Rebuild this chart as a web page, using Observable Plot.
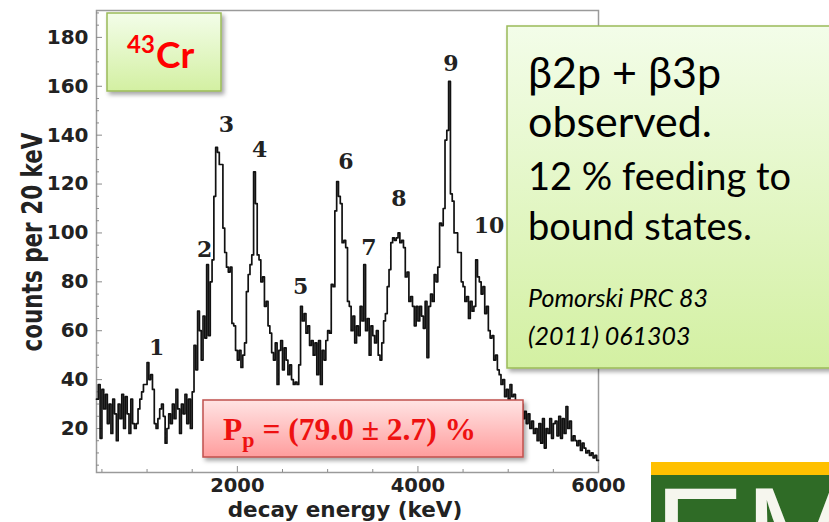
<!DOCTYPE html>
<html><head><meta charset="utf-8">
<script src="https://cdn.jsdelivr.net/npm/d3@7"></script>
<script src="https://cdn.jsdelivr.net/npm/@observablehq/plot@0.6"></script>
<style>
body{margin:0;background:#fff;}
#wrap{position:relative;width:829px;height:522px;overflow:hidden;background:#fff;}
#wrap svg{position:absolute;left:0;top:0;}
</style></head><body><div id="wrap"></div>
<script>
// ---- data (counts per 20 keV bin, bins start at 440 keV) ----
const binStartKeV = 440;
const binWidthKeV = 20;
const counts = [
  32,38,16,36,28,34,22,30,18,32,26,15,30,24,34,20,33,26,18,32,22,20,22,28,32,35,38,38,
  47,40,42,36,22,20,24,28,30,25,14,20,26,22,30,24,36,28,18,30,26,34,22,32,20,
  35,54,44,68,60,48,66,57,87,58,80,89,115,135,133,128,128,102,92,86,84,86,63,62,52,
  48,52,45,50,55,76,83,87,91,125,112,91,89,80,82,70,72,62,59,51,48,55,38,52,56,
  44,53,48,42,46,40,38,39,38,46,70,64,67,59,62,54,56,50,55,42,56,38,52,48,56,
  60,59,79,78,109,121,115,112,96,97,94,72,70,60,66,55,62,58,70,64,87,60,65,50,62,
  58,55,60,50,48,55,64,67,78,85,96,98,97,98,100,96,97,94,82,84,72,74,70,62,70,
  64,70,66,61,72,49,70,75,72,83,80,86,104,103,110,138,142,162,116,113,100,100,92,92,80,
  78,72,74,65,72,68,70,89,82,80,75,78,67,70,60,57,58,48,50,44,42,38,40,33,36,
  32,38,33,34,30,31,28,30,24,27,22,26,20,23,18,20,15,22,14,24,12,20,18,24,16,
  22,23,17,25,16,24,18,29,20,23,15,17,15,13,15,11,14,12,10,11,9,10,8,9,7
];
const peakLabels = ["1","2","3","4","5","6","7","8","9","10"];
const peakLabelEnergy = [1105,1638,1880,2248,2702,3201,3456,3789,4366,4787];
const peakLabelCount  = [53,93,144,134,78,129,94,114,169,103];
const xMajorTicks = [2000,4000,6000];
const xMinorTicks = [500,1000,1500,2500,3000,3500,4500,5000,5500];
const yMajorTicks = [20,40,60,80,100,120,140,160,180];
const yMinorTicks = [5,10,15,25,30,35,45,50,55,65,70,75,85,90,95,105,110,115,125,130,135,145,150,155,165,170,175,185,190];
const xTitle = "decay energy (keV)";
const yTitle = "counts per 20 keV";

// table for the library
const bins = counts.map((c, i) => ({e: binStartKeV + i * binWidthKeV, c}));
bins.push({e: binStartKeV + counts.length * binWidthKeV, c: counts[counts.length - 1]});
const peaks = peakLabels.map((t, i) => ({t, e: peakLabelEnergy[i], c: peakLabelCount[i]}));

const axisFont = {fontFamily: "DejaVu Sans", fontWeight: "bold", fill: "#222"};
const chart = Plot.plot({
  width: 829, height: 522,
  marginLeft: 96, marginRight: 231, marginTop: 10, marginBottom: 50,
  x: {domain: [440, 6000]},
  y: {domain: [2, 191]},
  style: {background: "transparent", fontFamily: "DejaVu Sans"},
  marks: [
    Plot.frame({stroke: "#9a9a9a", strokeWidth: 1.5}),
    Plot.axisY(yMinorTicks, {tickSize: -3, tickFormat: () => "", label: null, stroke: "#8a8a8a"}),
    Plot.axisY(yMajorTicks, {tickSize: -6, tickPadding: 14, label: null, stroke: "#8a8a8a", tickFormat: d => String(d), fontSize: 20, ...axisFont}),
    Plot.axisX(xMinorTicks, {tickSize: -3, tickFormat: () => "", label: null, stroke: "#8a8a8a"}),
    Plot.axisX(xMajorTicks, {tickSize: -6, tickPadding: 12, label: null, stroke: "#8a8a8a", tickFormat: d => String(d), fontSize: 19.5, ...axisFont}),
    Plot.line(bins, {x: "e", y: "c", curve: "step-after", stroke: "#111", strokeWidth: 1.7}),
    Plot.text(peaks, {x: "e", y: "c", text: "t", fontFamily: "DejaVu Serif", fontWeight: "bold", fontSize: 22, fill: "#222"})
  ]
});
document.getElementById("wrap").appendChild(chart);

// ---- annotations (slide overlays) ----
const ns = "http://www.w3.org/2000/svg";
const ov = document.createElementNS(ns, "svg");
ov.setAttribute("width", 829); ov.setAttribute("height", 522);
ov.innerHTML = `
<defs>
 <linearGradient id="gg" x1="0" y1="0" x2="0" y2="1"><stop offset="0" stop-color="#f3fde9"/><stop offset="1" stop-color="#d3f0a2"/></linearGradient>
 <linearGradient id="rg" x1="0" y1="0" x2="0" y2="1"><stop offset="0" stop-color="#ffe4e4"/><stop offset="1" stop-color="#ff9d9d"/></linearGradient>
 <filter id="sh" x="-10%" y="-10%" width="130%" height="140%"><feDropShadow dx="2.5" dy="3" stdDeviation="2.2" flood-color="#000" flood-opacity="0.35"/></filter>
 <clipPath id="lc"><rect x="651" y="475" width="180" height="50"/></clipPath>
</defs>
<text transform="translate(42,242) scale(1.3,1) rotate(-90)" text-anchor="middle" font-family="DejaVu Sans" font-weight="bold" font-size="21.5" fill="#222">${yTitle}</text>
<text x="345" y="517" text-anchor="middle" font-family="DejaVu Sans" font-weight="bold" font-size="21.5" fill="#222">${xTitle}</text>
<rect x="107" y="13" width="114" height="78" fill="url(#gg)" stroke="#9bbb59" stroke-width="1.5" filter="url(#sh)"/>
<text x="127" y="53" font-family="Lato" font-weight="bold" font-size="24" fill="#ff0000">43</text>
<text x="156" y="68" font-family="Lato" font-weight="bold" font-size="37" fill="#ff0000">Cr</text>
<rect x="507" y="26" width="340" height="342" fill="url(#gg)" stroke="#9bbb59" stroke-width="1.5" filter="url(#sh)"/>
<g font-family="Lato, 'Open Sans'" fill="#000">
 <text x="528" y="88" font-size="43">β2p + β3p</text>
 <text x="528" y="137" font-size="43">observed.</text>
 <text x="528" y="190" font-size="38">12 % feeding to</text>
 <text x="528" y="240" font-size="38">bound states.</text>
 <text x="528" y="307" font-size="25" font-style="italic">Pomorski PRC 83</text>
 <text x="528" y="345" font-size="25" font-style="italic">(2011) 061303</text>
</g>
<rect x="203" y="400" width="320" height="57" fill="url(#rg)" stroke="#c0504d" stroke-width="1.5" filter="url(#sh)"/>
<text x="223" y="440" font-family="Liberation Serif" font-weight="bold" font-size="31.5" fill="#ee1111">P<tspan font-size="22" dy="7">p</tspan><tspan dy="-7"> = (79.0 ± 2.7) %</tspan></text>
<rect x="651" y="462" width="180" height="14" fill="#ffc000"/>
<rect x="651" y="475" width="180" height="50" fill="#2f6b26"/>
<text x="654" y="582" clip-path="url(#lc)" font-family="Liberation Sans" font-size="136" fill="#f6f6ee">EM</text>
`;
document.getElementById("wrap").appendChild(ov);
</script>
</body></html>
